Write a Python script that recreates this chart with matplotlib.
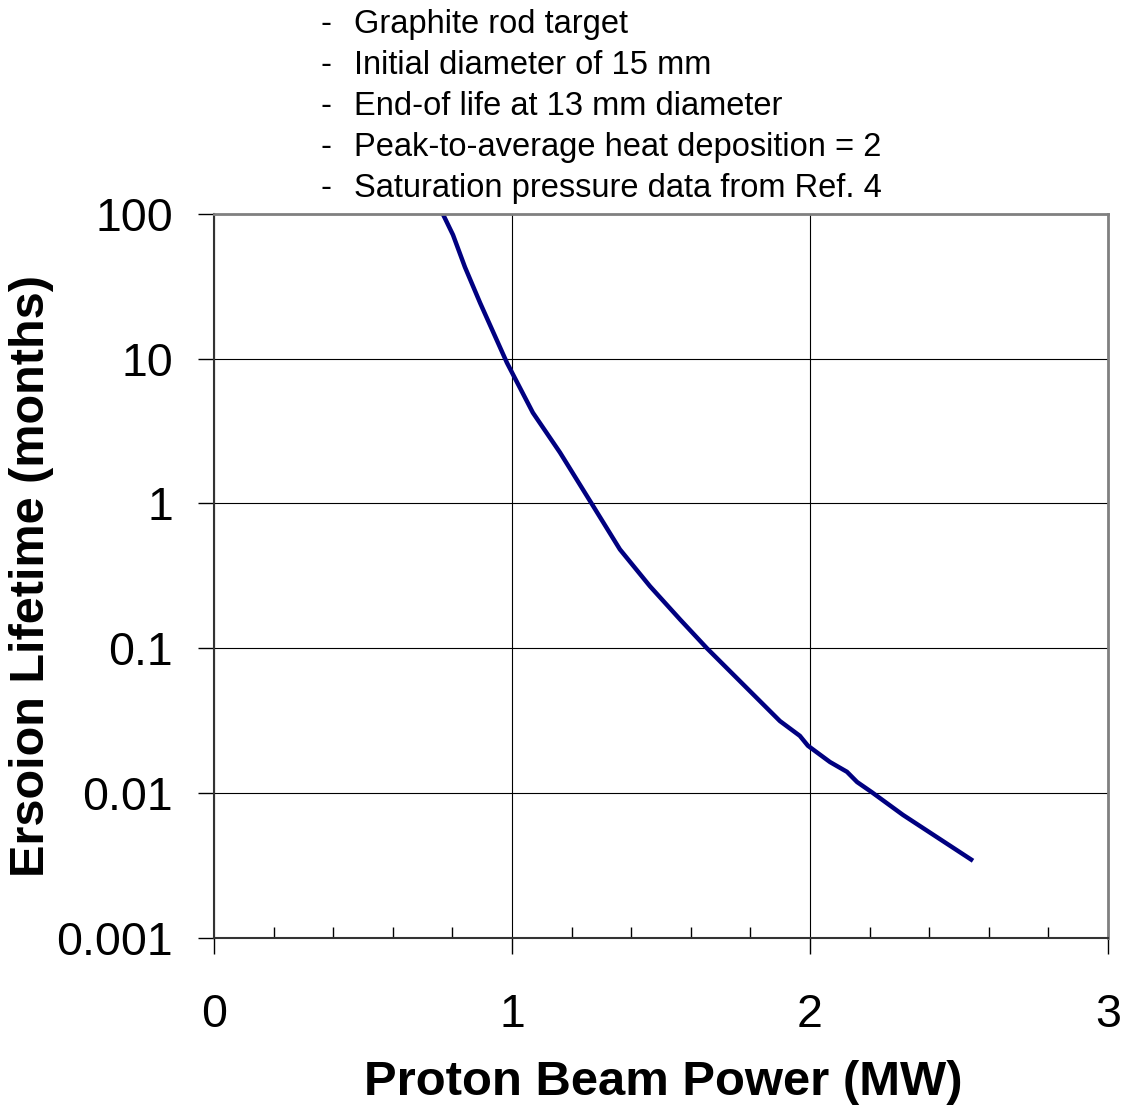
import numpy as np
import matplotlib
matplotlib.use("Agg")
import matplotlib.pyplot as plt
from matplotlib.ticker import NullLocator

plt.rcParams["font.family"] = ["Liberation Sans", "DejaVu Sans"]

# values
power_mw = [0.768, 0.802, 0.842, 0.893, 0.983, 1.070, 1.161, 1.267, 1.362,
            1.463, 1.564, 1.654, 1.899, 1.966, 1.993, 2.067, 2.124, 2.158,
            2.208, 2.312, 2.547]
lifetime_months = [100, 71.7, 43, 24.3, 9.38, 4.24, 2.25, 1.0, 0.482,
                   0.268, 0.158, 0.1, 0.0314, 0.0248, 0.0212, 0.01636,
                   0.0140, 0.0119, 0.0101, 0.00705, 0.0034]

x_ticks = [0, 1, 2, 3]
y_ticks = [0.001, 0.01, 0.1, 1, 10, 100]
y_tick_labels = ["0.001", "0.01", "0.1", "1", "10", "100"]

notes = [
    "Graphite rod target",
    "Initial diameter of 15 mm",
    "End-of life at 13 mm diameter",
    "Peak-to-average heat deposition = 2",
    "Saturation pressure data from Ref. 4",
]

W, H = 1127, 1111
fig = plt.figure(figsize=(W / 100, H / 100), dpi=100)
ax = fig.add_axes([214 / W, 1 - 937.7 / H, (1108 - 214) / W, (937.7 - 214) / H])

ax.plot(power_mw, lifetime_months, color="#000080", lw=3.2, solid_capstyle="butt")

ax.set_yscale("log")
ax.set_xlim(0, 3)
ax.set_ylim(0.001, 100)
ax.set_xticks(x_ticks)
ax.set_xticklabels([str(v) for v in x_ticks])
ax.set_xticks(np.arange(0, 3.01, 0.2), minor=True)
ax.set_yticks(y_ticks)
ax.set_yticklabels(y_tick_labels)
ax.yaxis.set_minor_locator(NullLocator())

ax.grid(True, which="major", color="black", lw=0.8)
ax.set_axisbelow(True)

for side in ["top", "right"]:
    ax.spines[side].set_color("#808080")
    ax.spines[side].set_linewidth(2)
for side in ["left", "bottom"]:
    ax.spines[side].set_color("#333333")
    ax.spines[side].set_linewidth(1.5)

ax.tick_params(axis="x", which="major", direction="out", length=11.5, width=1,
               pad=28, labelsize=33.5)
ax.tick_params(axis="x", which="minor", direction="in", length=8, width=1)
ax.tick_params(axis="y", which="major", direction="out", length=11.5, width=1,
               pad=18, labelsize=33.5)

ax.set_xlabel("Proton Beam Power (MW)", fontsize=35.3, fontweight="bold", va="center")
ax.xaxis.set_label_coords(0.503, -0.2)
ax.set_ylabel("Ersoion Lifetime (months)", fontsize=35, fontweight="bold", va="center")
ax.yaxis.set_label_coords(-0.2036, 0.5)

for i, note in enumerate(notes):
    yb = 1 - (33 + 41 * i) / H
    fig.text(321 / W, yb, "-", fontsize=23.5, va="baseline", ha="left")
    fig.text(354 / W, yb, note, fontsize=23.5, va="baseline", ha="left")

fig.savefig("out.png", dpi=100)
